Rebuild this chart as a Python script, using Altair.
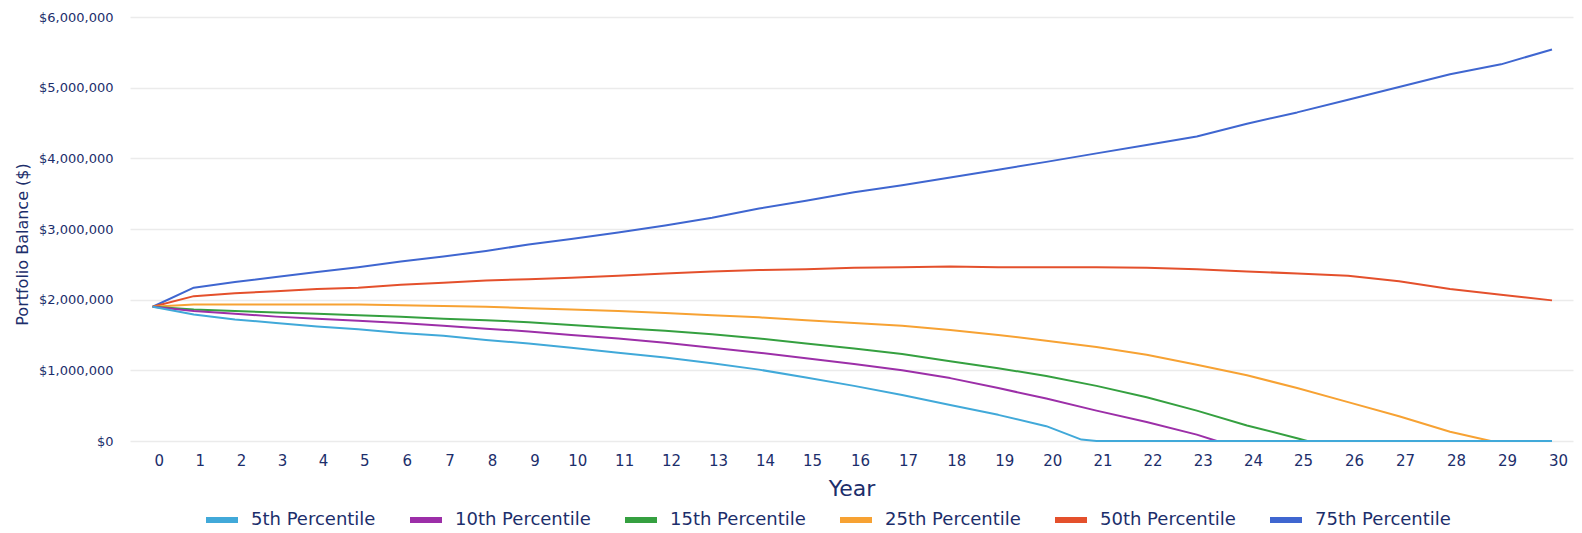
import altair as alt
import pandas as pd

# ---- data (values in $ millions) ----
years = list(range(31))

p75 = [1.90, 2.17, 2.25, 2.32, 2.39, 2.46, 2.54, 2.61, 2.69, 2.78, 2.86,
       2.95, 3.05, 3.16, 3.29, 3.40, 3.52, 3.62, 3.73, 3.84, 3.95,
       4.07, 4.19, 4.31, 4.49, 4.65, 4.83, 5.01, 5.19, 5.33, 5.54]
p50 = [1.90, 2.05, 2.09, 2.12, 2.15, 2.17, 2.21, 2.24, 2.27, 2.29, 2.31,
       2.34, 2.37, 2.40, 2.42, 2.43, 2.45, 2.46, 2.47, 2.46, 2.46,
       2.46, 2.45, 2.43, 2.40, 2.37, 2.34, 2.26, 2.15, 2.07, 1.99]
p25_years = list(range(29)) + [28.8, 29, 30]
p25 = [1.90, 1.93, 1.93, 1.93, 1.93, 1.93, 1.92, 1.91, 1.90, 1.88, 1.86,
       1.84, 1.81, 1.78, 1.75, 1.71, 1.67, 1.63, 1.57, 1.50, 1.42,
       1.33, 1.22, 1.08, 0.93, 0.75, 0.55, 0.35, 0.13, 0.0, 0.0, 0.0]
p15_years = list(range(26)) + [25.2] + list(range(26, 31))
p15 = [1.90, 1.86, 1.84, 1.82, 1.80, 1.78, 1.76, 1.73, 1.71, 1.68, 1.64,
       1.60, 1.56, 1.51, 1.45, 1.38, 1.31, 1.23, 1.13, 1.03, 0.92,
       0.78, 0.62, 0.43, 0.22, 0.04, 0.0, 0.0, 0.0, 0.0, 0.0, 0.0]
p10_years = list(range(24)) + [23.4] + list(range(24, 31))
p10 = [1.90, 1.84, 1.80, 1.76, 1.73, 1.70, 1.67, 1.63, 1.59, 1.55, 1.50,
       1.45, 1.39, 1.32, 1.25, 1.17, 1.09, 1.00, 0.89, 0.75, 0.60,
       0.43, 0.27, 0.09, 0.0, 0.0, 0.0, 0.0, 0.0, 0.0, 0.0, 0.0]
p5_years = list(range(21)) + [20.7] + list(range(21, 31))
p5 = [1.90, 1.79, 1.72, 1.67, 1.62, 1.58, 1.53, 1.49, 1.43, 1.38, 1.32,
      1.25, 1.18, 1.10, 1.01, 0.90, 0.78, 0.65, 0.51, 0.37, 0.21,
      0.02, 0.0, 0.0, 0.0, 0.0, 0.0, 0.0, 0.0, 0.0, 0.0, 0.0]

series_names = ["5th Percentile", "10th Percentile", "15th Percentile",
                "25th Percentile", "50th Percentile", "75th Percentile"]
series_colors = ["#41a9d9", "#9c2fa8", "#35a040", "#f7a233", "#e4502c", "#3f66d0"]

# draw order: 75th first ... 5th last (on top)
series_data = [
    ("75th Percentile", years, p75),
    ("50th Percentile", years, p50),
    ("25th Percentile", p25_years, p25),
    ("15th Percentile", p15_years, p15),
    ("10th Percentile", p10_years, p10),
    ("5th Percentile", p5_years, p5),
]

rows = []
for name, xs, ys in series_data:
    for i, (x, y) in enumerate(zip(xs, ys)):
        rows.append({"series": name, "year": x, "balance": y * 1e6, "idx": i})
df = pd.DataFrame(rows)

TEXT = "#1c2e6b"
FONT = "DejaVu Sans"

# x scale: the reference axis is slightly stretched toward the right
x_domain = [-0.55, 0, 5, 10, 15, 20, 25, 30, 30.41]
x_range = [0, 22.7, 228.2, 441.2, 676, 916.3, 1167.1, 1422, 1443]

chart = alt.Chart(df).mark_line(strokeWidth=2, interpolate="linear",
                                strokeJoin="round").encode(
    x=alt.X("year:Q",
            scale=alt.Scale(domain=x_domain, range=x_range, nice=False, zero=False),
            axis=alt.Axis(values=years, title="Year", grid=False, domain=False,
                          ticks=False, labelFontSize=15, labelColor=TEXT,
                          labelFont=FONT, labelPadding=12, labelOffset=6,
                          titleFontSize=22, titleFont=FONT, titleColor=TEXT,
                          titleFontWeight="normal", titlePadding=10,
                          labelFlush=False)),
    y=alt.Y("balance:Q",
            scale=alt.Scale(domain=[0, 6000000], nice=False),
            axis=alt.Axis(values=[0, 1e6, 2e6, 3e6, 4e6, 5e6, 6e6],
                          format="$,.0f", title="Portfolio Balance ($)",
                          grid=True, gridColor="#ebebeb", gridWidth=1.5,
                          domain=False, ticks=False, labelFontSize=13,
                          labelColor=TEXT, labelFont=FONT, labelPadding=17,
                          titleFontSize=16, titleFont=FONT, titleColor=TEXT,
                          titleFontWeight="normal", titlePadding=8,
                          titleY=227)),
    color=alt.Color("series:N",
                    scale=alt.Scale(domain=series_names, range=series_colors),
                    legend=alt.Legend(orient="none", legendX=73, legendY=484,
                                      direction="horizontal", title=None,
                                      symbolType="stroke", symbolSize=1024,
                                      symbolStrokeWidth=6, labelFontSize=18,
                                      labelFont=FONT, labelColor=TEXT,
                                      labelOffset=10, columnPadding=22)),
    detail="series:N",
    order="idx:Q",
).properties(
    width=1443,
    height=424,
    background="white",
    padding={"left": 130, "top": 17, "right": 9, "bottom": 92},
    autosize=alt.AutoSizeParams(type="none"),
).configure_view(stroke=None, strokeWidth=0)

chart.save("out.html", embed_options={"renderer": "svg", "actions": False})
